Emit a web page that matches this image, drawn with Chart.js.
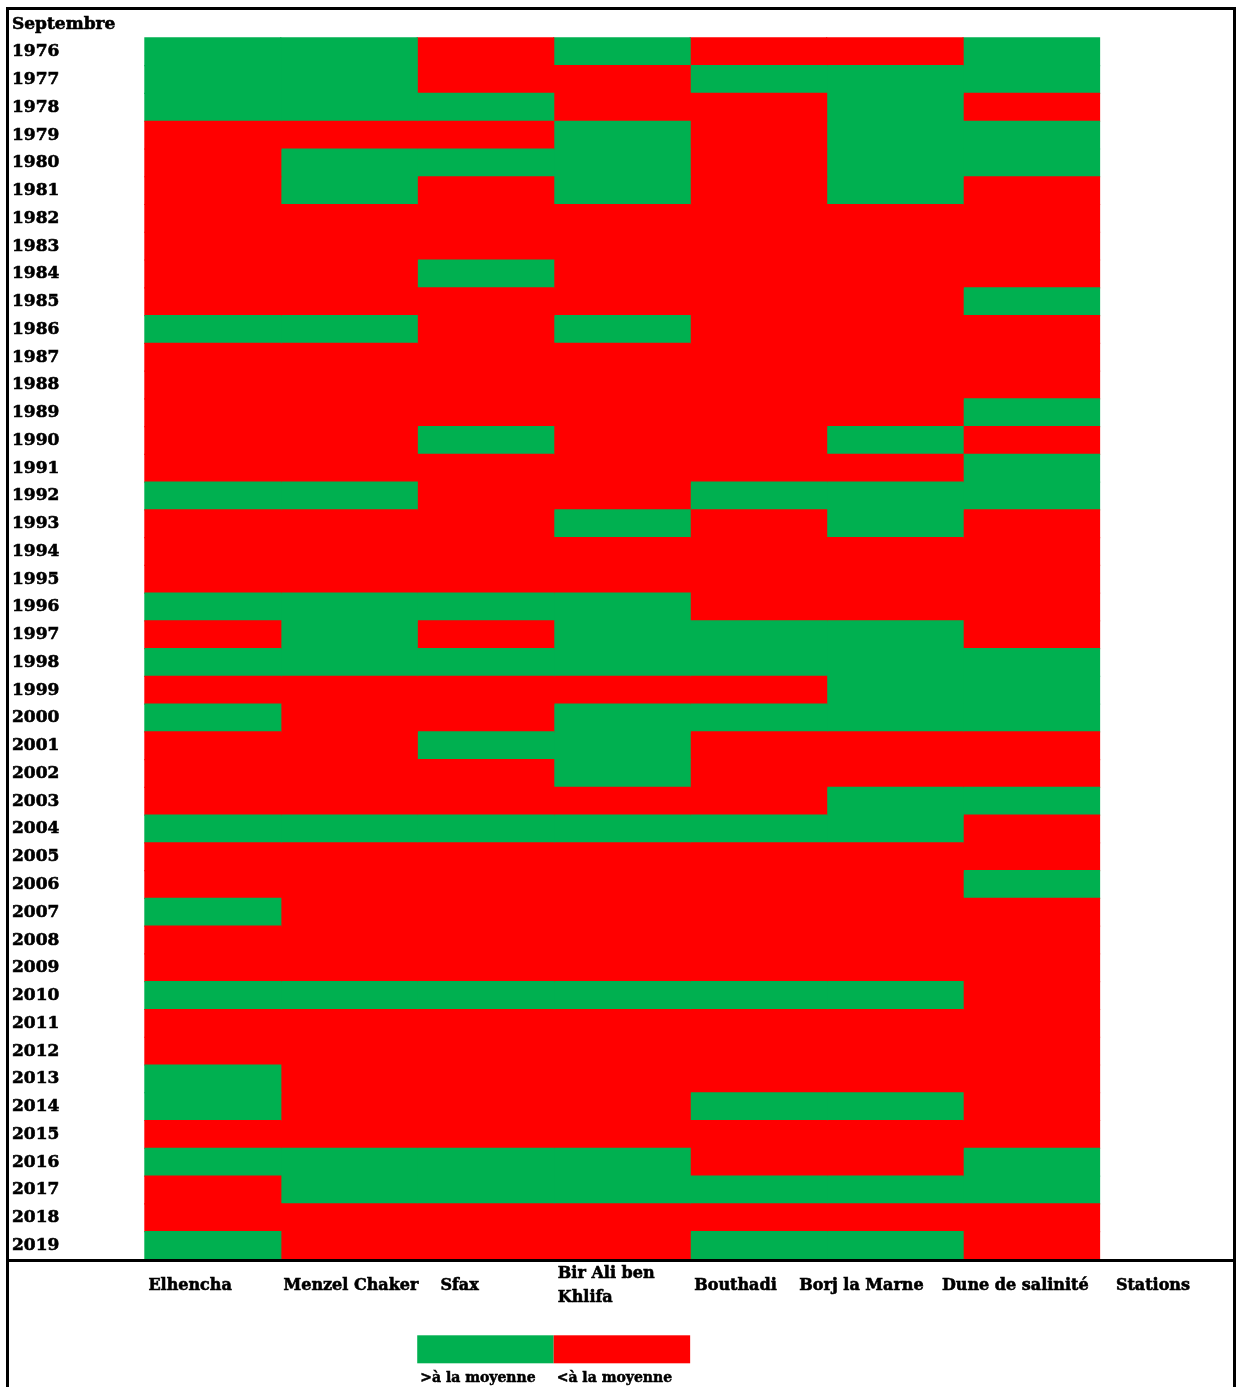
<!DOCTYPE html>
<html>
<head>
<meta charset="utf-8">
<script src="https://cdn.jsdelivr.net/npm/chart.js@4.4.1/dist/chart.umd.min.js"></script>
<style>
  html, body { margin: 0; padding: 0; background: #ffffff; }
  canvas { display: block; }
</style>
</head>
<body>
<canvas id="c" width="1236" height="1387"></canvas>
<script>
// ---------------- DATA ----------------
const rowHeader = 'Septembre';
const years = [1976,1977,1978,1979,1980,1981,1982,1983,1984,1985,
               1986,1987,1988,1989,1990,1991,1992,1993,1994,1995,
               1996,1997,1998,1999,2000,2001,2002,2003,2004,2005,
               2006,2007,2008,2009,2010,2011,2012,2013,2014,2015,
               2016,2017,2018,2019];
const stationLabels = ['Elhencha', 'Menzel Chaker', 'Sfax', ['Bir Ali ben', 'Khlifa'],
                       'Bouthadi', 'Borj la Marne', 'Dune de salinité', 'Stations'];
// 1 = > à la moyenne (green), 0 = < à la moyenne (red)
const elhencha     = [1,1,1,0,0,0,0,0,0,0, 1,0,0,0,0,0,1,0,0,0, 1,0,1,0,1,0,0,0,1,0, 0,1,0,0,1,0,0,1,1,0, 1,0,0,1];
const menzelChaker = [1,1,1,0,1,1,0,0,0,0, 1,0,0,0,0,0,1,0,0,0, 1,1,1,0,0,0,0,0,1,0, 0,0,0,0,1,0,0,0,0,0, 1,1,0,0];
const sfax         = [0,0,1,0,1,0,0,0,1,0, 0,0,0,0,1,0,0,0,0,0, 1,0,1,0,0,1,0,0,1,0, 0,0,0,0,1,0,0,0,0,0, 1,1,0,0];
const birAli       = [1,0,0,1,1,1,0,0,0,0, 1,0,0,0,0,0,0,1,0,0, 1,1,1,0,1,1,1,0,1,0, 0,0,0,0,1,0,0,0,0,0, 1,1,0,0];
const bouthadi     = [0,1,0,0,0,0,0,0,0,0, 0,0,0,0,0,0,1,0,0,0, 0,1,1,0,1,0,0,0,1,0, 0,0,0,0,1,0,0,0,1,0, 0,1,0,1];
const borjLaMarne  = [0,1,1,1,1,1,0,0,0,0, 0,0,0,0,1,0,1,1,0,0, 0,1,1,1,1,0,0,1,1,0, 0,0,0,0,1,0,0,0,1,0, 0,1,0,1];
const duneSalinite = [1,1,0,1,1,0,0,0,0,1, 0,0,0,1,0,1,1,0,0,0, 0,0,1,1,1,0,0,1,0,0, 1,0,0,0,0,0,0,0,0,0, 1,1,0,0];
const stationSeries = [elhencha, menzelChaker, sfax, birAli, bouthadi, borjLaMarne, duneSalinite];
const legendLabels = ['>à la moyenne', '<à la moyenne'];

// ---------------- STYLE ----------------
const GREEN = '#00B050';
const RED = '#FF0000';
const FONT = "'DejaVu Serif', 'Liberation Serif', serif";
// horizontal nudge of each station label (in column units)
const labelNudge = [0.03, 0.02, 0.17, 0.03, 0.03, -0.2, -0.155, 0.12];

const rowLabels = [rowHeader, ...years.map(String)];

const datasets = stationSeries.map((vals, s) => ({
  label: typeof stationLabels[s] === 'string' ? stationLabels[s] : stationLabels[s].join(' '),
  data: [null, ...vals.map(() => [s, s + 1])],
  backgroundColor: ['rgba(0,0,0,0)', ...vals.map(v => v ? GREEN : RED)],
  borderWidth: 0,
  barPercentage: 1,
  categoryPercentage: 1,
  grouped: false,
  inflateAmount: 0.6
}));

const framePlugin = {
  id: 'frame',
  afterDraw(chart) {
    const ctx = chart.ctx;
    const ca = chart.chartArea;
    const xs = chart.scales.x;
    ctx.save();
    // legend boxes under the chart
    const boxTop = ca.bottom + 76;
    const boxH = 28;
    const x2 = xs.getPixelForValue(2), x3 = xs.getPixelForValue(3), x4 = xs.getPixelForValue(4);
    ctx.fillStyle = GREEN;
    ctx.fillRect(x2, boxTop, x3 - x2, boxH);
    ctx.fillStyle = RED;
    ctx.fillRect(x3, boxTop, x4 - x3, boxH);
    ctx.fillStyle = '#000';
    ctx.strokeStyle = '#000';
    ctx.lineWidth = 0.5;
    ctx.font = "bold 14px " + FONT;
    ctx.textAlign = 'left';
    ctx.textBaseline = 'middle';
    const ly = ca.bottom + 119;
    ctx.fillText(legendLabels[0], x2 + 3, ly);
    ctx.strokeText(legendLabels[0], x2 + 3, ly);
    ctx.fillText(legendLabels[1], x3 + 3, ly);
    ctx.strokeText(legendLabels[1], x3 + 3, ly);
    // frame
    ctx.lineWidth = 3;
    ctx.beginPath();
    ctx.moveTo(7.5, chart.height + 2);
    ctx.lineTo(7.5, 8.5);
    ctx.lineTo(1234.5, 8.5);
    ctx.lineTo(1234.5, chart.height + 2);
    ctx.stroke();
    ctx.beginPath();
    ctx.moveTo(7.5, ca.bottom + 1.3);
    ctx.lineTo(1234.5, ca.bottom + 1.3);
    ctx.stroke();
    ctx.restore();
  }
};

new Chart(document.getElementById('c'), {
  type: 'bar',
  data: { labels: rowLabels, datasets },
  options: {
    indexAxis: 'y',
    responsive: false,
    animation: false,
    devicePixelRatio: 1,
    layout: { padding: { left: 12, top: 9.2, right: 0, bottom: 0 } },
    plugins: { legend: { display: false }, tooltip: { enabled: false } },
    scales: {
      y: {
        type: 'category',
        offset: true,
        grid: { display: false, drawTicks: false },
        border: { display: false },
        ticks: {
          autoSkip: false,
          crossAlign: 'far',
          padding: 0,
          color: '#000',
          textStrokeColor: '#000',
          textStrokeWidth: 0.6,
          font: { family: FONT, size: 17, weight: 'bold' }
        },
        afterFit(scale) { scale.width = 132.3; }
      },
      x: {
        type: 'linear',
        min: 0,
        max: stationLabels.length,
        grid: { display: false, drawTicks: false, tickLength: 0 },
        border: { display: false },
        afterBuildTicks(scale) {
          scale.ticks = stationLabels.map((_, i) => ({ value: i + labelNudge[i] }));
        },
        ticks: {
          autoSkip: false,
          maxRotation: 0,
          minRotation: 0,
          align: 'start',
          crossAlign: 'center',
          padding: 15,
          color: '#000',
          textStrokeColor: '#000',
          textStrokeWidth: 0.6,
          font: { family: FONT, size: 16, weight: 'bold', lineHeight: 1.5 },
          callback: (v, i) => stationLabels[i]
        },
        afterFit(scale) { scale.height = 127.7; }
      }
    }
  },
  plugins: [framePlugin]
});
</script>
</body>
</html>
